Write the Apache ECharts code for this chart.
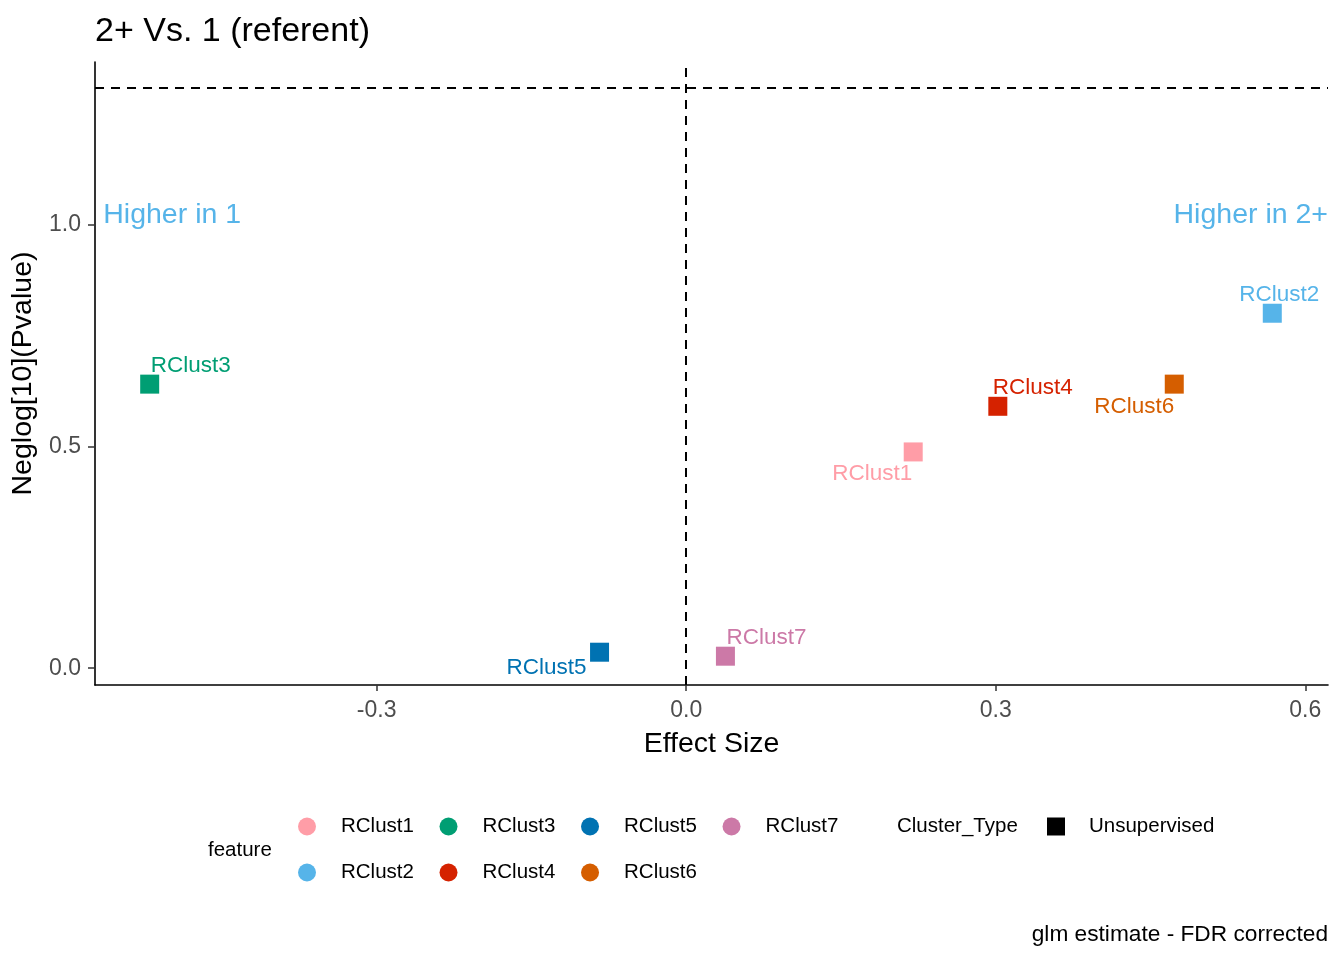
<!DOCTYPE html>
<html>
<head>
  <meta charset="utf-8">
</head>
<body style="height: 100%; margin: 0">
  <div id="container" style="width: 1344px; height: 960px"></div>

  <script type="text/javascript" src="https://fastly.jsdelivr.net/npm/echarts@6.0.0/dist/echarts.min.js"></script>
  <script type="text/javascript">
    // data
    var features = ['RClust1', 'RClust2', 'RClust3', 'RClust4', 'RClust5', 'RClust6', 'RClust7'];
    var effectSize = [0.220, 0.568, -0.520, 0.302, -0.084, 0.473, 0.038];
    var negLogP = [0.488, 0.801, 0.641, 0.591, 0.036, 0.641, 0.027];
    var featureColors = ['#FF9DA7', '#56B4E9', '#009E73', '#D52200', '#0072B2', '#D55E00', '#CC79A7'];
    var xTicks = [-0.3, 0.0, 0.3, 0.6];
    var yTicks = [0.0, 0.5, 1.0];
    var pThreshold = 1.307; // ~ -log10(0.05)

    // ggrepel-ish label nudges (pixels, from the point)
    var labelNudge = {
      RClust1: [-41, 22], RClust2: [7, -18], RClust3: [41, -18], RClust4: [35, -18],
      RClust5: [-53, 16], RClust6: [-40, 23], RClust7: [41, -18]
    };

    var FONT = 'Liberation Sans, Arial, sans-serif';
    var dom = document.getElementById('container');
    var myChart = echarts.init(dom, null, { renderer: 'canvas' });

    var series = features.map(function (f, i) {
      return {
        name: f,
        type: 'scatter',
        symbol: 'rect',
        symbolSize: 19,
        itemStyle: { color: featureColors[i], opacity: 1 },
        data: [[effectSize[i], negLogP[i]]],
        label: {
          show: true,
          position: 'inside',
          offset: labelNudge[f],
          formatter: f,
          color: featureColors[i],
          fontFamily: FONT,
          fontSize: 22.5
        },
        z: 3
      };
    });

    // dashed reference lines
    series[0].markLine = {
      silent: true,
      symbol: 'none',
      label: { show: false },
      lineStyle: { color: '#000', type: [9, 7], width: 2, opacity: 1 },
      data: [{ xAxis: 0 }, { yAxis: pThreshold }]
    };

    // cluster type (shape legend only)
    series.push({
      name: 'Unsupervised',
      type: 'scatter',
      symbol: 'rect',
      itemStyle: { color: '#000', opacity: 1 },
      data: []
    });

    // "Higher in" annotations
    series.push({
      name: 'annot',
      type: 'scatter',
      symbolSize: 0,
      silent: true,
      itemStyle: { opacity: 1 },
      data: [
        { value: [-0.565, 1.022], label: { formatter: 'Higher in 1', align: 'left' } },
        { value: [0.622, 1.022], label: { formatter: 'Higher in 2+', align: 'right' } }
      ],
      label: {
        show: true,
        position: 'inside',
        color: '#56B4E9',
        fontFamily: FONT,
        fontSize: 28.5
      }
    });

    var legendText = { fontFamily: FONT, fontSize: 20.5, color: '#000', padding: [0, 0, 0, 20], lineHeight: 18 };

    var option = {
      animation: false,
      backgroundColor: '#fff',
      title: {
        text: '2+ Vs. 1 (referent)',
        left: 95,
        top: 15,
        padding: 0,
        textStyle: { fontFamily: FONT, fontSize: 34, fontWeight: 'normal', color: '#000' }
      },
      grid: { left: 95, right: 16, top: 62, bottom: 275, containLabel: false },
      xAxis: {
        type: 'value',
        min: -0.573,
        max: 0.622,
        name: 'Effect Size',
        nameLocation: 'middle',
        nameGap: 45,
        nameTextStyle: { fontFamily: FONT, fontSize: 28.5, color: '#000' },
        splitLine: { show: false },
        axisLine: { onZero: false, lineStyle: { color: '#000', width: 1.6 } },
        axisTick: { show: true, length: 6, customValues: xTicks, lineStyle: { color: '#333', width: 1.5 } },
        axisLabel: {
          customValues: xTicks,
          margin: 14,
          fontFamily: FONT,
          fontSize: 23,
          color: '#4D4D4D',
          formatter: function (v) { return v.toFixed(1); }
        }
      },
      yAxis: {
        type: 'value',
        min: -0.038,
        max: 1.368,
        name: 'Neglog[10](Pvalue)',
        nameLocation: 'middle',
        nameGap: 48,
        nameTextStyle: { fontFamily: FONT, fontSize: 28.5, color: '#000' },
        splitLine: { show: false },
        axisLine: { onZero: false, lineStyle: { color: '#000', width: 1.6 } },
        axisTick: { show: true, length: 7, customValues: yTicks, lineStyle: { color: '#333', width: 1.5 } },
        axisLabel: {
          customValues: yTicks,
          margin: 14,
          fontFamily: FONT,
          fontSize: 23,
          color: '#4D4D4D',
          formatter: function (v) { return v.toFixed(1); }
        }
      },
      legend: [
        {
          data: ['RClust1', 'RClust3', 'RClust5', 'RClust7'],
          left: 298, top: 816, padding: 0,
          icon: 'circle', itemWidth: 18, itemHeight: 18, itemGap: 25.6,
          itemStyle: { opacity: 1 },
          textStyle: legendText
        },
        {
          data: ['RClust2', 'RClust4', 'RClust6'],
          left: 298, top: 862, padding: 0,
          icon: 'circle', itemWidth: 18, itemHeight: 18, itemGap: 25.6,
          itemStyle: { opacity: 1 },
          textStyle: legendText
        },
        {
          data: ['Unsupervised'],
          left: 1047, top: 816, padding: 0,
          icon: 'rect', itemWidth: 18, itemHeight: 18,
          itemStyle: { opacity: 1 },
          textStyle: { fontFamily: FONT, fontSize: 20.5, color: '#000', padding: [0, 0, 0, 19], lineHeight: 18 }
        }
      ],
      graphic: [
        { type: 'text', left: 208, top: 840, style: { text: 'feature', font: '20.5px ' + FONT, fill: '#000' } },
        { type: 'text', left: 897, top: 816, style: { text: 'Cluster_Type', font: '20.5px ' + FONT, fill: '#000' } },
        { type: 'text', right: 16, top: 923, style: { text: 'glm estimate - FDR corrected', font: '22.7px ' + FONT, fill: '#000' } }
      ],
      series: series
    };

    myChart.setOption(option);
    window.addEventListener('resize', myChart.resize);
  </script>
</body>
</html>
